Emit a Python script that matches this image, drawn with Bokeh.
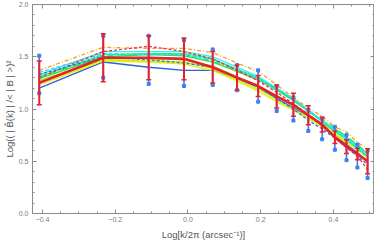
import numpy as np
from bokeh.plotting import figure
from bokeh.models import LinearAxis, Range1d, FixedTicker
from bokeh.embed import file_html
from bokeh.resources import INLINE

# log10(k/2pi) sample positions
x = [-0.409, -0.233, -0.108, -0.011, 0.068, 0.135, 0.193, 0.244, 0.290,
     0.331, 0.369, 0.404, 0.436, 0.466, 0.494]

# series values
blue_solid = [1.20, 1.45, 1.40, 1.37, 1.37, 1.29, 1.21, 1.10, 1.01, 0.92, 0.83, 0.74, 0.66, 0.58, 0.50]
yellow = [1.23, 1.46, 1.45, 1.43, 1.37, 1.27, 1.17, 1.07, 0.99, 0.91, 0.83, 0.75, 0.68, 0.61, 0.53]
yellow_green = [1.25, 1.47, 1.46, 1.45, 1.39, 1.28, 1.19, 1.09, 1.00, 0.92, 0.84, 0.76, 0.69, 0.62, 0.54]
lime = [1.27, 1.48, 1.48, 1.47, 1.41, 1.31, 1.22, 1.12, 1.03, 0.94, 0.86, 0.78, 0.71, 0.63, 0.56]
green = [1.29, 1.50, 1.52, 1.51, 1.45, 1.36, 1.28, 1.18, 1.08, 0.98, 0.89, 0.81, 0.73, 0.65, 0.57]
green2 = [1.30, 1.51, 1.53, 1.52, 1.46, 1.37, 1.29, 1.19, 1.09, 0.99, 0.90, 0.82, 0.74, 0.66, 0.58]
teal = [1.31, 1.52, 1.53, 1.53, 1.48, 1.38, 1.30, 1.19, 1.09, 0.98, 0.88, 0.79, 0.71, 0.63, 0.55]
cyan = [1.33, 1.55, 1.55, 1.55, 1.50, 1.40, 1.31, 1.20, 1.10, 0.99, 0.89, 0.80, 0.72, 0.64, 0.56]
cyan_dash = [1.35, 1.53, 1.52, 1.52, 1.47, 1.38, 1.29, 1.19, 1.09, 0.98, 0.88, 0.79, 0.71, 0.62, 0.54]
orange_dash = [1.37, 1.59, 1.58, 1.58, 1.54, 1.44, 1.36, 1.23, 1.11, 1.01, 0.93, 0.83, 0.78, 0.68, 0.62]
red_dash = [1.30, 1.55, 1.60, 1.55, 1.48, 1.37, 1.27, 1.16, 1.05, 0.95, 0.84, 0.74, 0.65, 0.55, 0.42]

blue_dash = [1.33, 1.50, 1.47, 1.44, 1.40, 1.30, 1.22, 1.10, 1.00, 0.89, 0.81, 0.72, 0.63, 0.55, 0.47]
blue_err = [0.18, 0.20, 0.23, 0.22, 0.17, 0.12, 0.15, 0.12, 0.11, 0.10, 0.10, 0.11, 0.12, 0.11, 0.13]

red_mean = [1.25, 1.49, 1.49, 1.48, 1.40, 1.30, 1.22, 1.12, 1.04, 0.94, 0.85, 0.73, 0.64, 0.57, 0.50]
red_err = [0.21, 0.23, 0.21, 0.20, 0.15, 0.12, 0.10, 0.11, 0.11, 0.09, 0.07, 0.06, 0.065, 0.055, 0.12]

x_ticks = [-0.4, -0.2, 0.0, 0.2, 0.4]
x_tick_labels = ["\u22120.4", "\u22120.2", "0.0", "0.2", "0.4"]
y_ticks = [0.0, 0.5, 1.0, 1.5, 2.0]
y_tick_labels = ["0.0", "0.5", "1.0", "1.5", "2.0"]

p = figure(width=374, height=242, output_backend="svg", toolbar_location=None,
           x_range=Range1d(-0.4276, 0.513), y_range=Range1d(0.0, 2.0),
           min_border_left=31, min_border_right=0, min_border_top=4, min_border_bottom=27)
p.grid.visible = False
p.outline_line_color = "#9a9a9a"
p.background_fill_color = "white"
p.border_fill_color = "white"

lines = [
    (blue_solid, "#2a62d8", "solid", 1.4),
    (yellow, "#e6ee10", "solid", 1.4),
    (yellow_green, "#c8f020", "solid", 1.4),
    (lime, "#8cf028", "solid", 1.4),
    (green, "#38e038", "solid", 1.4),
    (green2, "#20f070", "dashed", 1.2),
    (teal, "#22e6b0", "solid", 1.3),
    (cyan, "#30f0f0", "solid", 1.3),
    (cyan_dash, "#20d8e8", "4 2", 1.2),
    (orange_dash, "#ff9a20", "4 2 1 2", 1.3),
    (red_dash, "#f03040", "3 2", 1.3),
]
for ys, c, dash, w in lines:
    p.line(x, ys, line_color=c, line_dash=dash, line_width=w)

# blue dashed with error bars
xb = np.array(x)
bd = np.array(blue_dash)
be = np.array(blue_err)
p.line(x, blue_dash, line_color="#2a70e8", line_dash="3 2", line_width=1.3)
p.segment(xb, bd - be, xb, bd + be, line_color="#3a80f0", line_width=1.6)
p.scatter(np.concatenate([xb, xb]), np.concatenate([bd - be, bd + be]),
          marker="square", size=3, fill_color="#3a80f0", line_color="#3a80f0")

# red mean with error bars
rm = np.array(red_mean)
re = np.array(red_err)
p.line(x, red_mean, line_color="#e8202c", line_width=2.6)
p.segment(xb, rm - re, xb, rm + re, line_color="#e8202c", line_width=2.0)
p.scatter(np.concatenate([xb, xb]), np.concatenate([rm - re, rm + re]),
          marker="dash", size=5, line_color="#e8202c", line_width=1.5)

axis_color = "#8a8a8a"
label_color = "#7a7a7a"
x_minor = [round(v, 3) for v in np.arange(-0.4, 0.51, 0.05)]
y_minor = [round(v, 2) for v in np.arange(0.0, 2.01, 0.1)]


def style(ax, ticks, minor, labels, show):
    ax.ticker = FixedTicker(ticks=ticks, minor_ticks=minor)
    ax.axis_line_color = axis_color
    ax.major_tick_line_color = axis_color
    ax.minor_tick_line_color = axis_color
    ax.major_tick_in = 4
    ax.major_tick_out = 0
    ax.minor_tick_in = 2
    ax.minor_tick_out = 0
    if show:
        ax.major_label_overrides = dict(zip(ticks, labels))
        ax.major_label_text_font = "Liberation Sans"
        ax.major_label_text_font_size = "7px"
        ax.major_label_text_color = label_color
        ax.major_label_standoff = 4
    else:
        ax.major_label_overrides = {t: "" for t in ticks}
        ax.major_label_text_font_size = "1px"
        ax.major_label_standoff = 0


style(p.xaxis[0], x_ticks, x_minor, x_tick_labels, True)
p.xaxis[0].major_label_standoff = 3
p.xaxis[0].axis_label = "Log[k/2\u03c0 (arcsec\u207b\u00b9)]"
p.xaxis[0].axis_label_text_font = "Liberation Sans"
p.xaxis[0].axis_label_text_font_size = "9.5px"
p.xaxis[0].axis_label_text_font_style = "normal"
p.xaxis[0].axis_label_text_color = "#555555"
p.xaxis[0].axis_label_standoff = 4

style(p.yaxis[0], y_ticks, y_minor, y_tick_labels, True)
p.yaxis[0].axis_label = "Log(( | B\u0302(k) | /< | B | >)\u00b2"
p.yaxis[0].axis_label_text_font = "Liberation Sans"
p.yaxis[0].axis_label_text_font_size = "9.5px"
p.yaxis[0].axis_label_text_font_style = "normal"
p.yaxis[0].axis_label_text_color = "#555555"
p.yaxis[0].axis_label_standoff = 1

top = LinearAxis()
style(top, x_ticks, x_minor, x_tick_labels, False)
p.add_layout(top, "above")
right = LinearAxis()
style(right, y_ticks, y_minor, y_tick_labels, False)
p.add_layout(right, "right")

open("out.html", "w").write(file_html(p, INLINE))
